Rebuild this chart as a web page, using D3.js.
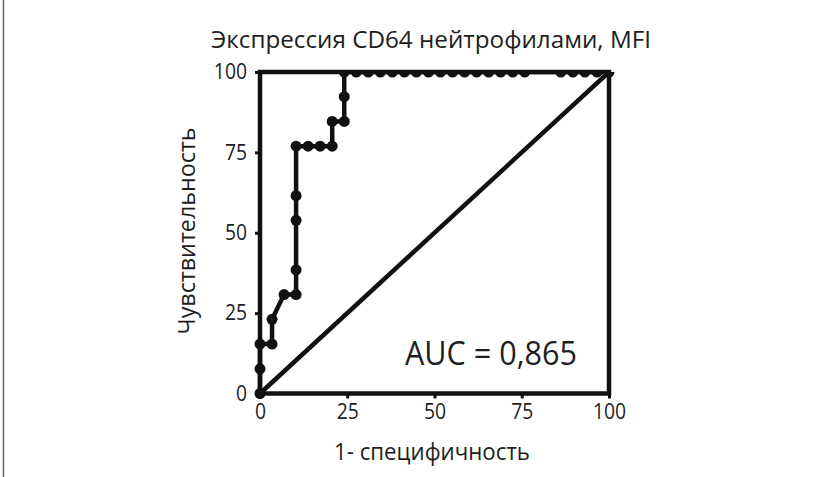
<!DOCTYPE html>
<html>
<head>
<meta charset="utf-8">
<script src="https://cdn.jsdelivr.net/npm/d3@7"></script>
<style>
  html, body { margin: 0; padding: 0; background: #fff; }
  svg { display: block; font-family: "Open Sans", "Noto Sans", sans-serif; }
</style>
</head>
<body>
<svg id="chart" width="820" height="477"></svg>
<script>
// ROC curve: 1 - specificity (%) vs sensitivity (%)
const fpr = [0, 0, 0, 3.45, 3.45, 6.90, 10.34, 10.34, 10.34, 10.34, 10.34,
  13.79, 17.24, 20.69, 20.69, 24.14, 24.14, 24.14,
  27.59, 31.03, 34.48, 37.93, 41.38, 44.83, 48.28, 51.72, 55.17, 58.62,
  62.07, 65.52, 68.97, 72.41, 75.86, 86.21, 89.66, 93.10, 96.55, 100];
const tpr = [0, 7.69, 15.38, 15.38, 23.08, 30.77, 30.77, 38.46, 53.85, 61.54, 76.92,
  76.92, 76.92, 76.92, 84.62, 84.62, 92.31, 100,
  100, 100, 100, 100, 100, 100, 100, 100, 100, 100,
  100, 100, 100, 100, 100, 100, 100, 100, 100, 100];

// reference line of no discrimination
const chanceX = [0, 100];
const chanceY = [0, 100];

const tickValues = [0, 25, 50, 75, 100];
const titleText = "Экспрессия CD64 нейтрофилами, MFI";
const xLabel = "1- специфичность";
const yLabel = "Чувствительность";
const aucLabel = "AUC = 0,865";

const ink = "#111";
const textInk = "#1e1e1e";
const svg = d3.select("#chart");

const plotLeft = 260, plotRight = 609, plotTop = 72, plotBottom = 393.5;
const x = d3.scaleLinear().domain([0, 100]).range([plotLeft, plotRight]);
const y = d3.scaleLinear().domain([0, 100]).range([plotBottom, plotTop]);

// page edge rule
svg.append("line")
  .attr("x1", 3.5).attr("x2", 3.5).attr("y1", 0).attr("y2", 477)
  .attr("stroke", "#666").attr("stroke-width", 1.5);

// marks are clipped at the upper edge of the plot frame
svg.append("defs").append("clipPath").attr("id", "plotClip")
  .append("rect")
  .attr("x", plotLeft - 20).attr("y", plotTop)
  .attr("width", plotRight - plotLeft + 40).attr("height", plotBottom - plotTop + 20);

const plot = svg.append("g").attr("clip-path", "url(#plotClip)");

// diagonal
plot.append("line")
  .attr("x1", x(chanceX[0])).attr("y1", y(chanceY[0]))
  .attr("x2", x(chanceX[1])).attr("y2", y(chanceY[1]))
  .attr("stroke", ink).attr("stroke-width", 4.5);

const pts = fpr.map((v, i) => [v, tpr[i]]);
plot.append("path")
  .datum(pts)
  .attr("fill", "none")
  .attr("stroke", ink)
  .attr("stroke-width", 4.5)
  .attr("stroke-linejoin", "round")
  .attr("d", d3.line().x(d => x(d[0])).y(d => y(d[1])));

plot.selectAll("circle.pt")
  .data(pts)
  .join("circle")
  .attr("class", "pt")
  .attr("cx", d => x(d[0]))
  .attr("cy", d => y(d[1]))
  .attr("r", 5.5)
  .attr("fill", ink);

// axes
const xAxis = d3.axisBottom(x).tickValues(tickValues).tickSize(5).tickPadding(6);
const yAxis = d3.axisLeft(y).tickValues(tickValues).tickSize(5).tickPadding(8);

const gx = svg.append("g").attr("transform", `translate(0,${plotBottom})`).call(xAxis);
const gy = svg.append("g").attr("transform", `translate(${plotLeft},0)`).call(yAxis);

[gx, gy].forEach(g => {
  g.select(".domain").remove();
  g.selectAll(".tick line").attr("stroke", ink).attr("stroke-width", 3);
  g.selectAll(".tick text")
    .attr("fill", textInk)
    .style("font-family", "'Open Sans', sans-serif")
    .style("font-size", "21px")
    .attr("textLength", function () { return this.getComputedTextLength() * 0.92; })
    .attr("lengthAdjust", "spacingAndGlyphs");
});

// frame
svg.append("rect")
  .attr("x", plotLeft).attr("y", plotTop)
  .attr("width", plotRight - plotLeft).attr("height", plotBottom - plotTop)
  .attr("fill", "none").attr("stroke", ink).attr("stroke-width", 4.5);

// texts
svg.append("text")
  .attr("x", 431).attr("y", 48)
  .attr("text-anchor", "middle")
  .attr("fill", textInk)
  .style("font-size", "24px")
  .attr("textLength", 440).attr("lengthAdjust", "spacingAndGlyphs")
  .text(titleText);

svg.append("text")
  .attr("x", 432).attr("y", 460)
  .attr("text-anchor", "middle")
  .attr("fill", textInk)
  .style("font-size", "24px")
  .attr("textLength", 196).attr("lengthAdjust", "spacingAndGlyphs")
  .text(xLabel);

svg.append("text")
  .attr("transform", `translate(195,231) rotate(-90)`)
  .attr("text-anchor", "middle")
  .attr("fill", textInk)
  .style("font-size", "24px")
  .attr("textLength", 207).attr("lengthAdjust", "spacingAndGlyphs")
  .text(yLabel);

svg.append("text")
  .attr("x", 491).attr("y", 365)
  .attr("text-anchor", "middle")
  .attr("fill", textInk)
  .style("font-size", "33px")
  .attr("textLength", 172).attr("lengthAdjust", "spacingAndGlyphs")
  .text(aucLabel);
</script>
</body>
</html>
